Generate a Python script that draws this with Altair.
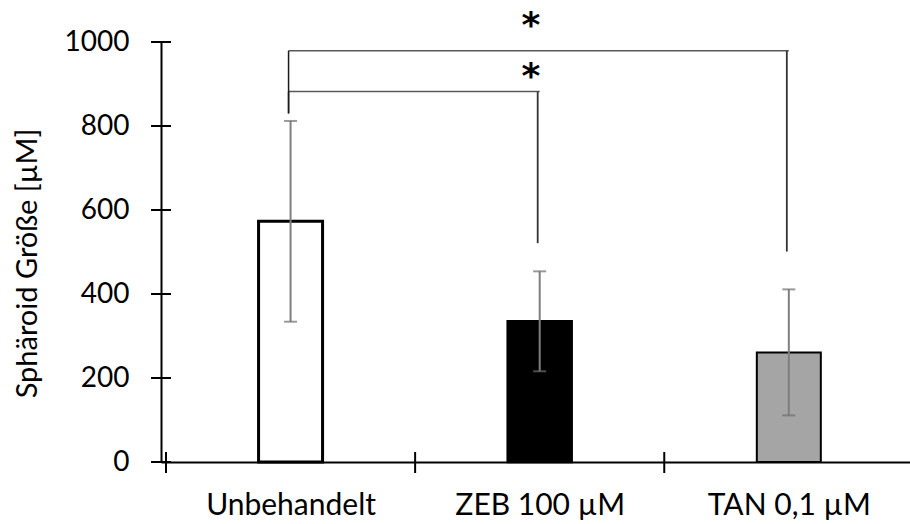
import json
import altair as alt
import pandas as pd

# ---- data ----
categories = ["Unbehandelt", "ZEB 100 µM", "TAN 0,1 µM"]
means = [573, 335, 261]
errors = [239, 119, 150]

y_ticks = [0, 200, 400, 600, 800, 1000]
x_boundaries = [-0.5, 0.5, 1.5]

# significance brackets (category index from/to, levels in axis units)
bracket_from = [0, 0]
bracket_to = [1, 2]
bracket_level = [882, 979]
bracket_left_bottom = [830, 830]
bracket_right_bottom = [521, 501]
star_x = [0.965, 0.965]
star_level = [929, 1051]
star_text = ["*", "*"]

# ---- styles ----
bar_fills = ["#ffffff", "#000000", "#a5a5a5"]
bar_strokes = [3, 2, 2]
FONT = "Lato"

W, H = 749, 420

bars_df = pd.DataFrame({"cat": categories, "mean": means, "err": errors,
                        "idx": list(range(len(categories)))})
br_df = pd.DataFrame({"x0": bracket_from, "x1": bracket_to, "lvl": bracket_level,
                      "lb": bracket_left_bottom, "rb": bracket_right_bottom})
star_df = pd.DataFrame({"x": star_x, "y": star_level, "t": star_text})
yt_df = pd.DataFrame({"v": y_ticks})
xt_df = pd.DataFrame({"v": x_boundaries})

label_expr = json.dumps(categories) + "[round(datum.value)]"

xscale = alt.Scale(domain=[-0.5, -0.5 + W / 252.5], nice=False, zero=False)
yscale = alt.Scale(domain=[0, 1000], nice=False)

x_axis = alt.Axis(values=[0, 1, 2], labelExpr=label_expr, ticks=False, tickSize=0,
                  grid=False, domain=True, domainColor="#000000", domainWidth=2,
                  labelFont=FONT, labelFontSize=30, labelColor="#000000",
                  labelPadding=28, title=None)
y_axis = alt.Axis(values=y_ticks, format="d", ticks=False, tickSize=0, grid=False,
                  domain=True, domainColor="#000000", domainWidth=2,
                  labelFont=FONT, labelFontSize=28, labelColor="#000000",
                  labelPadding=32, title="Sphäroid Größe [µM]",
                  titleFont=FONT, titleFontSize=29, titleFontWeight="normal",
                  titleColor="#000000", titleAngle=270, titleX=-134, titleY=221,
                  titleAlign="center", titleBaseline="middle")

base = alt.Chart(bars_df)

bars = base.mark_bar(size=64, stroke="#000000").encode(
    x=alt.X("idx:Q", scale=xscale, axis=x_axis),
    y=alt.Y("mean:Q", scale=yscale, axis=y_axis),
    fill=alt.Fill("cat:N", scale=alt.Scale(domain=categories, range=bar_fills), legend=None),
    strokeWidth=alt.StrokeWidth("cat:N", scale=alt.Scale(domain=categories, range=bar_strokes), legend=None),
)

err_base = base.transform_calculate(lo="datum.mean - datum.err", hi="datum.mean + datum.err")
err_line = err_base.mark_rule(color="#7f7f7f", strokeWidth=2).encode(
    x=alt.X("idx:Q", scale=xscale), y=alt.Y("lo:Q", scale=yscale), y2="hi:Q")
err_lo = err_base.mark_tick(color="#6f6f6f", orient="horizontal", size=13, thickness=2).encode(
    x=alt.X("idx:Q", scale=xscale), y=alt.Y("lo:Q", scale=yscale))
err_hi = err_base.mark_tick(color="#6f6f6f", orient="horizontal", size=13, thickness=2).encode(
    x=alt.X("idx:Q", scale=xscale), y=alt.Y("hi:Q", scale=yscale))

brc = alt.Chart(br_df)
br_h = brc.mark_rule(color="#595959", strokeWidth=1.5, xOffset=-2).encode(
    x=alt.X("x0:Q", scale=xscale), x2="x1:Q", y=alt.Y("lvl:Q", scale=yscale))
br_l = brc.mark_rule(color="#1a1a1a", strokeWidth=1.5, xOffset=-2).encode(
    x=alt.X("x0:Q", scale=xscale), y=alt.Y("lb:Q", scale=yscale), y2="lvl:Q")
br_r = brc.mark_rule(color="#333333", strokeWidth=1.8, xOffset=-2).encode(
    x=alt.X("x1:Q", scale=xscale), y=alt.Y("rb:Q", scale=yscale), y2="lvl:Q")

stars = alt.Chart(star_df).mark_text(font="DejaVu Sans", fontWeight="bold", fontSize=36,
                                     baseline="alphabetic", dy=16, color="#000000").encode(
    x=alt.X("x:Q", scale=xscale), y=alt.Y("y:Q", scale=yscale), text="t:N")

ytk = alt.Chart(yt_df).mark_rule(color="#000000", strokeWidth=2).encode(
    y=alt.Y("v:Q", scale=yscale), x=alt.value(-10), x2=alt.value(10))
xtk = alt.Chart(xt_df).mark_rule(color="#000000", strokeWidth=2).encode(
    x=alt.X("v:Q", scale=xscale), y=alt.value(H - 10), y2=alt.value(H + 11))

chart = alt.layer(bars, err_line, err_lo, err_hi, br_h, br_l, br_r, stars, ytk, xtk).properties(
    width=W, height=H,
    autosize=alt.AutoSizeParams(type="none"),
    padding={"left": 161, "top": 42, "right": 0, "bottom": 62},
    background="#ffffff",
).configure_view(stroke=None)

chart.save("out.html", embed_options={"renderer": "svg", "actions": False})
